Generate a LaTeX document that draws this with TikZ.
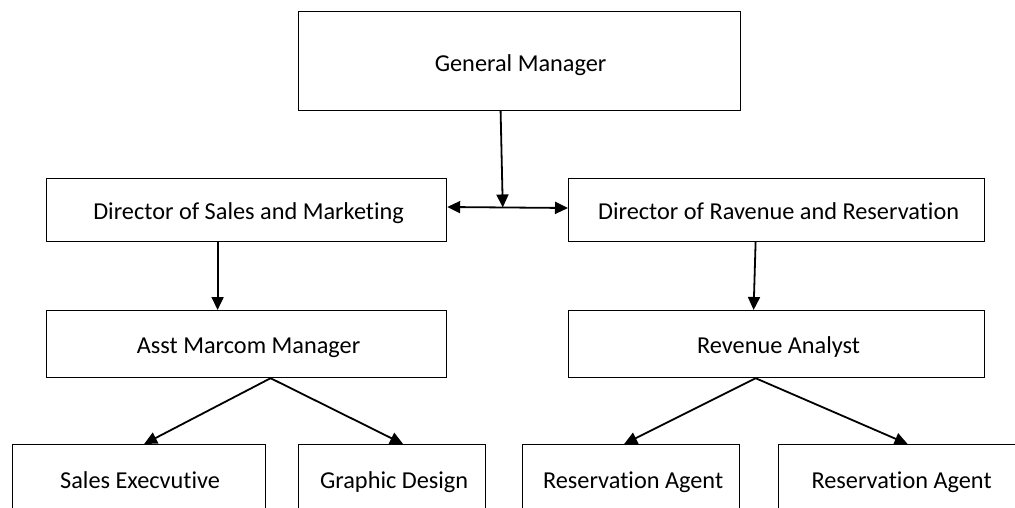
\documentclass[tikz,border=0pt]{standalone}
\usepackage{fontspec}
\setmainfont[Ligatures={NoCommon}]{Carlito}
\usetikzlibrary{arrows.meta,calc}
\begin{document}
\begin{tikzpicture}[x=1pt,y=-1pt,
  box/.style={draw=black,line width=1.2pt,inner sep=0pt,anchor=north west},
  lbl/.style={font=\fontsize{24.3}{28}\selectfont,text=black,anchor=base,inner sep=0pt},
  arr/.style={line width=1.8pt,-{Triangle[length=13pt,width=12pt]}},
  darr/.style={line width=1.8pt,{Triangle[length=13pt,width=12pt]}-{Triangle[length=13pt,width=12pt]}}]
\useasboundingbox (0,0) rectangle (1015,508);
\clip (0,0) rectangle (1015,508);
% boxes
\node[box,minimum width=442pt,minimum height=99pt] (gm) at (298,11) {};
\node[lbl] (gmt) at ($(gm.north)+(1,61)$) {General Manager};
\node[box,minimum width=400pt,minimum height=63pt] (dsm) at (46,178) {};
\node[lbl] (dsmt) at ($(dsm.north)+(2,41)$) {Director of Sales and Marketing};
\node[box,minimum width=416pt,minimum height=63pt] (drr) at (568,178) {};
\node[lbl] (drrt) at ($(drr.north)+(2,41)$) {Director of Ravenue and Reservation};
\node[box,minimum width=400pt,minimum height=67pt] (amm) at (46,310) {};
\node[lbl] (ammt) at ($(amm.north)+(2,43)$) {Asst Marcom Manager};
\node[box,minimum width=416pt,minimum height=67pt] (ra) at (568,310) {};
\node[lbl] (rat) at ($(ra.north)+(2,43)$) {Revenue Analyst};
\node[box,minimum width=253pt,minimum height=70pt] (se) at (12,444) {};
\node[lbl] (set) at ($(se.north)+(1,44)$) {Sales Execvutive};
\node[box,minimum width=187pt,minimum height=70pt] (gd) at (298,444) {};
\node[lbl] (gdt) at ($(gd.north)+(2,44)$) {Graphic Design};
\node[box,minimum width=217pt,minimum height=70pt] (rag1) at (522,444) {};
\node[lbl] (rag1t) at ($(rag1.north)+(2,44)$) {Reservation Agent};
\node[box,minimum width=240pt,minimum height=70pt] (rag2) at (778,444) {};
\node[lbl] (rag2t) at ($(rag2.north)+(3,44)$) {Reservation Agent};
% connectors
\draw[darr] (dsm.east |- 0,207) -- (drr.west |- 0,208) coordinate[pos=0.46] (mid);
\draw[arr] ([xshift=-19pt]gm.south) -- (mid);
\draw[arr] ([xshift=-29pt]dsm.south) -- ([xshift=-29pt]amm.north);
\draw[arr] ([xshift=-21pt]drr.south) -- ([xshift=-23pt]ra.north);
\coordinate (ammb) at ([xshift=24pt]amm.south);
\coordinate (rab) at ([xshift=-21pt]ra.south);
\draw[arr] (ammb) -- ([xshift=5pt]se.north);
\draw[arr] (ammb) -- ([xshift=11pt]gd.north);
\draw[arr] (rab) -- ([xshift=-7pt]rag1.north);
\draw[arr] (rab) -- ([xshift=9pt]rag2.north);
\end{tikzpicture}
\end{document}
